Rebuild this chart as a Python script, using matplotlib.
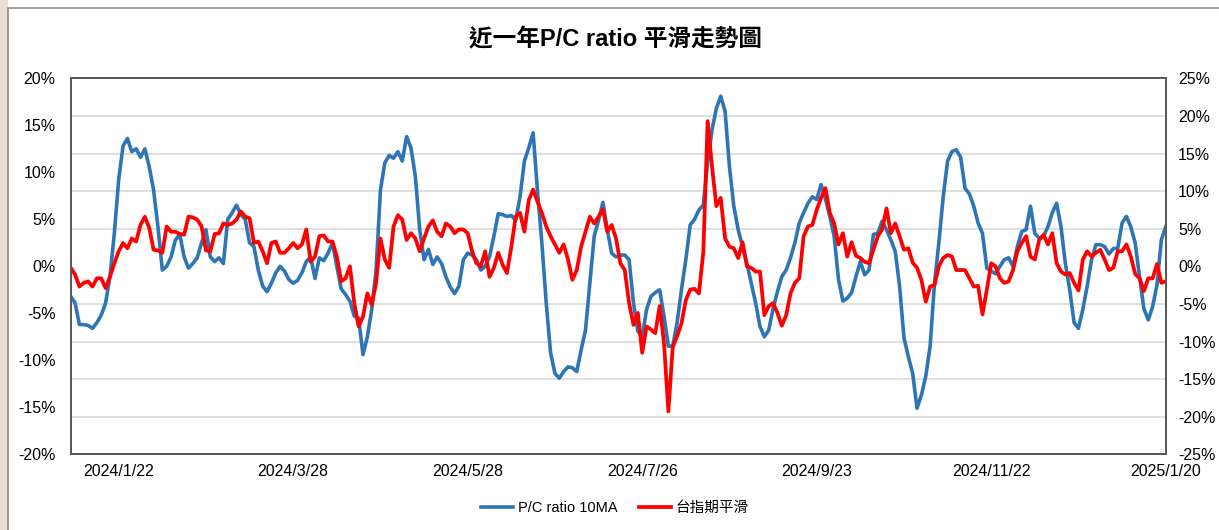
import numpy as np
import matplotlib
matplotlib.use("Agg")
import matplotlib.pyplot as plt
from matplotlib.patches import Rectangle
from matplotlib.ticker import FuncFormatter

# P/C ratio 10MA (left axis, %)
pc_ratio = [
    -3.2, -3.9, -6.2, -6.2, -6.3, -6.6, -6.0, -5.2, -3.9, -1.1,
    3.5, 9.2, 12.8, 13.6, 12.2, 12.5, 11.6, 12.5, 10.6, 8.1,
    4.2, -0.4, 0.0, 1.0, 2.8, 3.4, 1.0, -0.2, 0.3, 0.9,
    2.5, 3.9, 1.0, 0.5, 0.9, 0.3, 5.0, 5.7, 6.5, 5.5,
    5.0, 2.5, 2.1, -0.4, -2.1, -2.7, -1.8, -0.7, 0.0, -0.5,
    -1.4, -1.8, -1.5, -0.7, 0.5, 1.0, -1.3, 0.9, 0.6, 1.4,
    2.5, 0.0, -2.4, -3.0, -3.7, -5.3, -5.5, -9.4, -7.5, -4.6,
    -0.4, 8.1, 11.0, 11.8, 11.5, 12.2, 11.2, 13.8, 12.6, 9.6,
    3.9, 0.7, 1.8, 0.2, 1.0, 0.3, -1.1, -2.2, -2.9, -2.1,
    0.7, 1.4, 1.2, 0.7, -0.4, 0.0, 1.0, 3.2, 5.6, 5.5,
    5.3, 5.4, 4.9, 7.4, 11.2, 12.6, 14.2, 8.0, 2.5, -3.9,
    -9.2, -11.4, -11.9, -11.2, -10.7, -10.8, -11.2, -8.9, -6.8, -1.8,
    3.2, 4.9, 6.8, 3.9, 1.4, 1.0, 1.2, 1.2, 0.7, -3.9,
    -6.9, -7.5, -4.6, -3.2, -2.8, -2.5, -5.3, -8.5, -8.5, -6.0,
    -2.5, 0.7, 4.4, 5.0, 6.0, 6.5, 11.0, 14.5, 16.8, 18.1,
    16.5, 10.6, 6.4, 3.9, 2.1, 0.3, -1.8, -3.9, -6.4, -7.5,
    -6.8, -4.5, -2.7, -1.1, -0.4, 0.9, 2.5, 4.6, 5.7, 6.7,
    7.4, 7.1, 8.7, 7.2, 5.3, 3.2, -1.4, -3.7, -3.4, -2.8,
    -1.1, 0.5, -0.9, -0.4, 3.4, 3.5, 4.8, 3.9, 2.8, 1.6,
    -2.1, -7.6, -9.6, -11.4, -15.1, -13.7, -11.7, -8.5, -1.8, 2.5,
    7.4, 11.2, 12.2, 12.4, 11.6, 8.3, 7.7, 6.4, 4.6, 3.5,
    -0.2, -0.5, -0.8, 0.0, 0.7, 0.9, 0.0, 2.1, 3.7, 3.9,
    6.4, 3.5, 3.0, 3.2, 4.2, 5.7, 6.7, 4.2, 0.3, -2.5,
    -6.0, -6.6, -4.6, -2.1, 0.7, 2.3, 2.3, 2.1, 1.3, 1.9,
    1.9, 4.6, 5.3, 4.2, 2.5, -1.1, -4.5, -5.7, -4.3, -2.0,
    2.8, 4.2,
]

# 台指期平滑 (right axis, %)
taiex_smooth = [
    -0.2, -1.1, -2.7, -2.2, -2.0, -2.7, -1.6, -1.6, -2.9, -1.4,
    0.4, 2.0, 3.1, 2.4, 3.7, 3.3, 5.5, 6.6, 5.1, 2.2,
    2.1, 1.8, 5.3, 4.6, 4.6, 4.3, 4.2, 6.6, 6.5, 6.2,
    5.3, 2.1, 2.0, 4.3, 4.4, 5.7, 5.5, 5.7, 6.2, 7.3,
    6.6, 6.4, 3.1, 3.3, 2.0, 0.4, 3.1, 3.3, 1.8, 1.8,
    2.4, 3.1, 2.4, 2.9, 4.9, 0.6, 1.3, 4.0, 4.1, 3.3,
    3.3, 1.3, -2.0, -1.6, 0.0, -4.9, -8.0, -6.7, -3.6, -5.1,
    -2.2, 3.7, 0.9, -0.2, 5.3, 6.8, 6.2, 3.5, 4.4, 3.7,
    2.0, 3.7, 5.3, 6.1, 4.6, 4.0, 5.7, 5.3, 4.4, 4.9,
    4.9, 4.4, 2.0, 0.4, 0.0, 2.0, -1.4, -0.2, 1.8, 0.2,
    -0.9, 2.6, 6.6, 7.1, 4.6, 8.8, 10.2, 8.6, 7.1, 5.3,
    4.0, 2.9, 1.8, 2.9, 0.9, -1.8, -0.5, 2.6, 4.6, 6.6,
    5.7, 6.6, 7.6, 4.6, 5.5, 3.7, 0.4, -0.5, -4.9, -7.8,
    -6.2, -11.5, -8.0, -8.4, -8.9, -5.3, -10.2, -19.3, -10.7, -9.3,
    -7.6, -4.5, -3.1, -3.0, -3.6, 1.8, 19.3, 13.3, 8.0, 9.1,
    3.7, 2.6, 2.4, 1.1, 3.2, 0.0, -0.2, -0.7, -0.7, -6.5,
    -5.3, -4.9, -6.2, -7.9, -6.5, -3.6, -2.2, -1.6, 4.0, 5.3,
    5.5, 7.5, 9.1, 10.4, 7.1, 5.7, 2.9, 4.4, 1.3, 3.2,
    1.4, 1.1, 0.6, 0.4, 2.2, 4.0, 4.9, 7.7, 4.4, 5.7,
    4.0, 2.2, 2.4, 0.5, -0.2, -1.8, -4.7, -2.7, -2.5, 0.0,
    1.1, 1.5, 1.3, -0.5, -0.5, -0.5, -1.6, -2.7, -2.6, -6.4,
    -3.1, 0.4, 0.0, -1.6, -2.2, -2.0, -0.5, 2.0, 3.1, 4.0,
    1.3, 0.9, 3.5, 4.2, 2.9, 4.4, 0.4, -0.7, -1.1, -0.9,
    -2.2, -3.2, 0.9, 2.0, 1.3, 1.8, 2.2, 0.9, -0.5, -0.2,
    2.0, 2.0, 2.9, 1.3, -1.0, -1.6, -3.3, -1.6, -1.6, 0.3,
    -2.2, -2.0,
]

date_labels = ['2024/1/22', '2024/3/28', '2024/5/28', '2024/7/26',
               '2024/9/23', '2024/11/22', '2025/1/20']
LABEL_STEP = 40  # one label every 40 trading days, counted back from the last day

BLUE = '#2E75B6'
RED = '#FF0000'
FRAME = '#595959'
GRID = '#D9D9D9'

plt.rcParams['font.family'] = ['Liberation Sans', 'Noto Sans CJK TC', 'DejaVu Sans']

W, H = 1219, 530
fig = plt.figure(figsize=(W / 100, H / 100), dpi=100)
fig.patch.set_facecolor('white')

# chart border and the little beige strip on the far left (kept behind the axes)
fig.patches.append(Rectangle((0, 0), 8 / W, 1, transform=fig.transFigure,
                             facecolor='#E9DED3', edgecolor='none', zorder=-2))
fig.patches.append(Rectangle((8 / W, -0.01), 1.0, 1 - 8 / H + 0.01, transform=fig.transFigure,
                             facecolor='white', edgecolor='#8C8C8C', lw=1.2, zorder=-1))

left, right, top, bottom = 70.7, 1165.7, 78.3, 454.3
ax1 = fig.add_axes([left / W, 1 - bottom / H, (right - left) / W, (bottom - top) / H])
ax2 = ax1.twinx()
ax1.set_zorder(1)
ax2.set_zorder(2)
ax2.patch.set_visible(False)

x1 = np.arange(len(pc_ratio))
x2 = np.arange(len(taiex_smooth))
n = len(pc_ratio)

ax1.plot(x1, pc_ratio, color=BLUE, lw=2.6, solid_joinstyle='round', label='P/C ratio 10MA')
ax2.plot(x2, taiex_smooth, color=RED, lw=2.7, solid_joinstyle='round', label='台指期平滑')

ax1.set_xlim(0, n - 1)
ax1.set_ylim(-20, 20)
ax2.set_ylim(-25, 25)
ax1.set_yticks(np.arange(-20, 21, 5))
ax2.set_yticks(np.arange(-25, 26, 5))

# horizontal gridlines follow the right-hand scale (every 5% there = 4% on the left)
ax1.set_yticks(np.arange(-16, 17, 4), minor=True)
ax1.grid(which='minor', axis='y', color=GRID, lw=1.2)
ax1.set_axisbelow(True)

pct = FuncFormatter(lambda v, p: f'{v:.0f}%')
ax1.yaxis.set_major_formatter(pct)
ax2.yaxis.set_major_formatter(pct)

ticks = np.arange(n - 1, -1, -LABEL_STEP)[::-1][-len(date_labels):]
ax1.set_xticks(ticks)
ax1.set_xticklabels(date_labels)

ax1.tick_params(axis='y', which='both', length=0, pad=11, labelsize=11.5)
ax2.tick_params(axis='y', length=0, pad=9, labelsize=11.5)
ax1.tick_params(axis='x', length=0, pad=7, labelsize=11.5)

for ax in (ax1, ax2):
    for s in ax.spines.values():
        s.set_color(FRAME)
        s.set_linewidth(1.3)

fig.text(615 / W, 1 - 40 / H, '近一年P/C ratio 平滑走勢圖', ha='center', va='center',
         fontsize=17, fontweight='bold', family=['Liberation Sans', 'Noto Sans CJK TC'])

h1, l1 = ax1.get_legend_handles_labels()
h2, l2 = ax2.get_legend_handles_labels()
fig.legend(h1 + h2, l1 + l2, loc='center', bbox_to_anchor=(615 / W, 1 - 508 / H),
           ncol=2, frameon=False, fontsize=10.5, handlelength=2.2, columnspacing=1.5,
           handletextpad=0.3)

fig.savefig('out.png', dpi=100)
